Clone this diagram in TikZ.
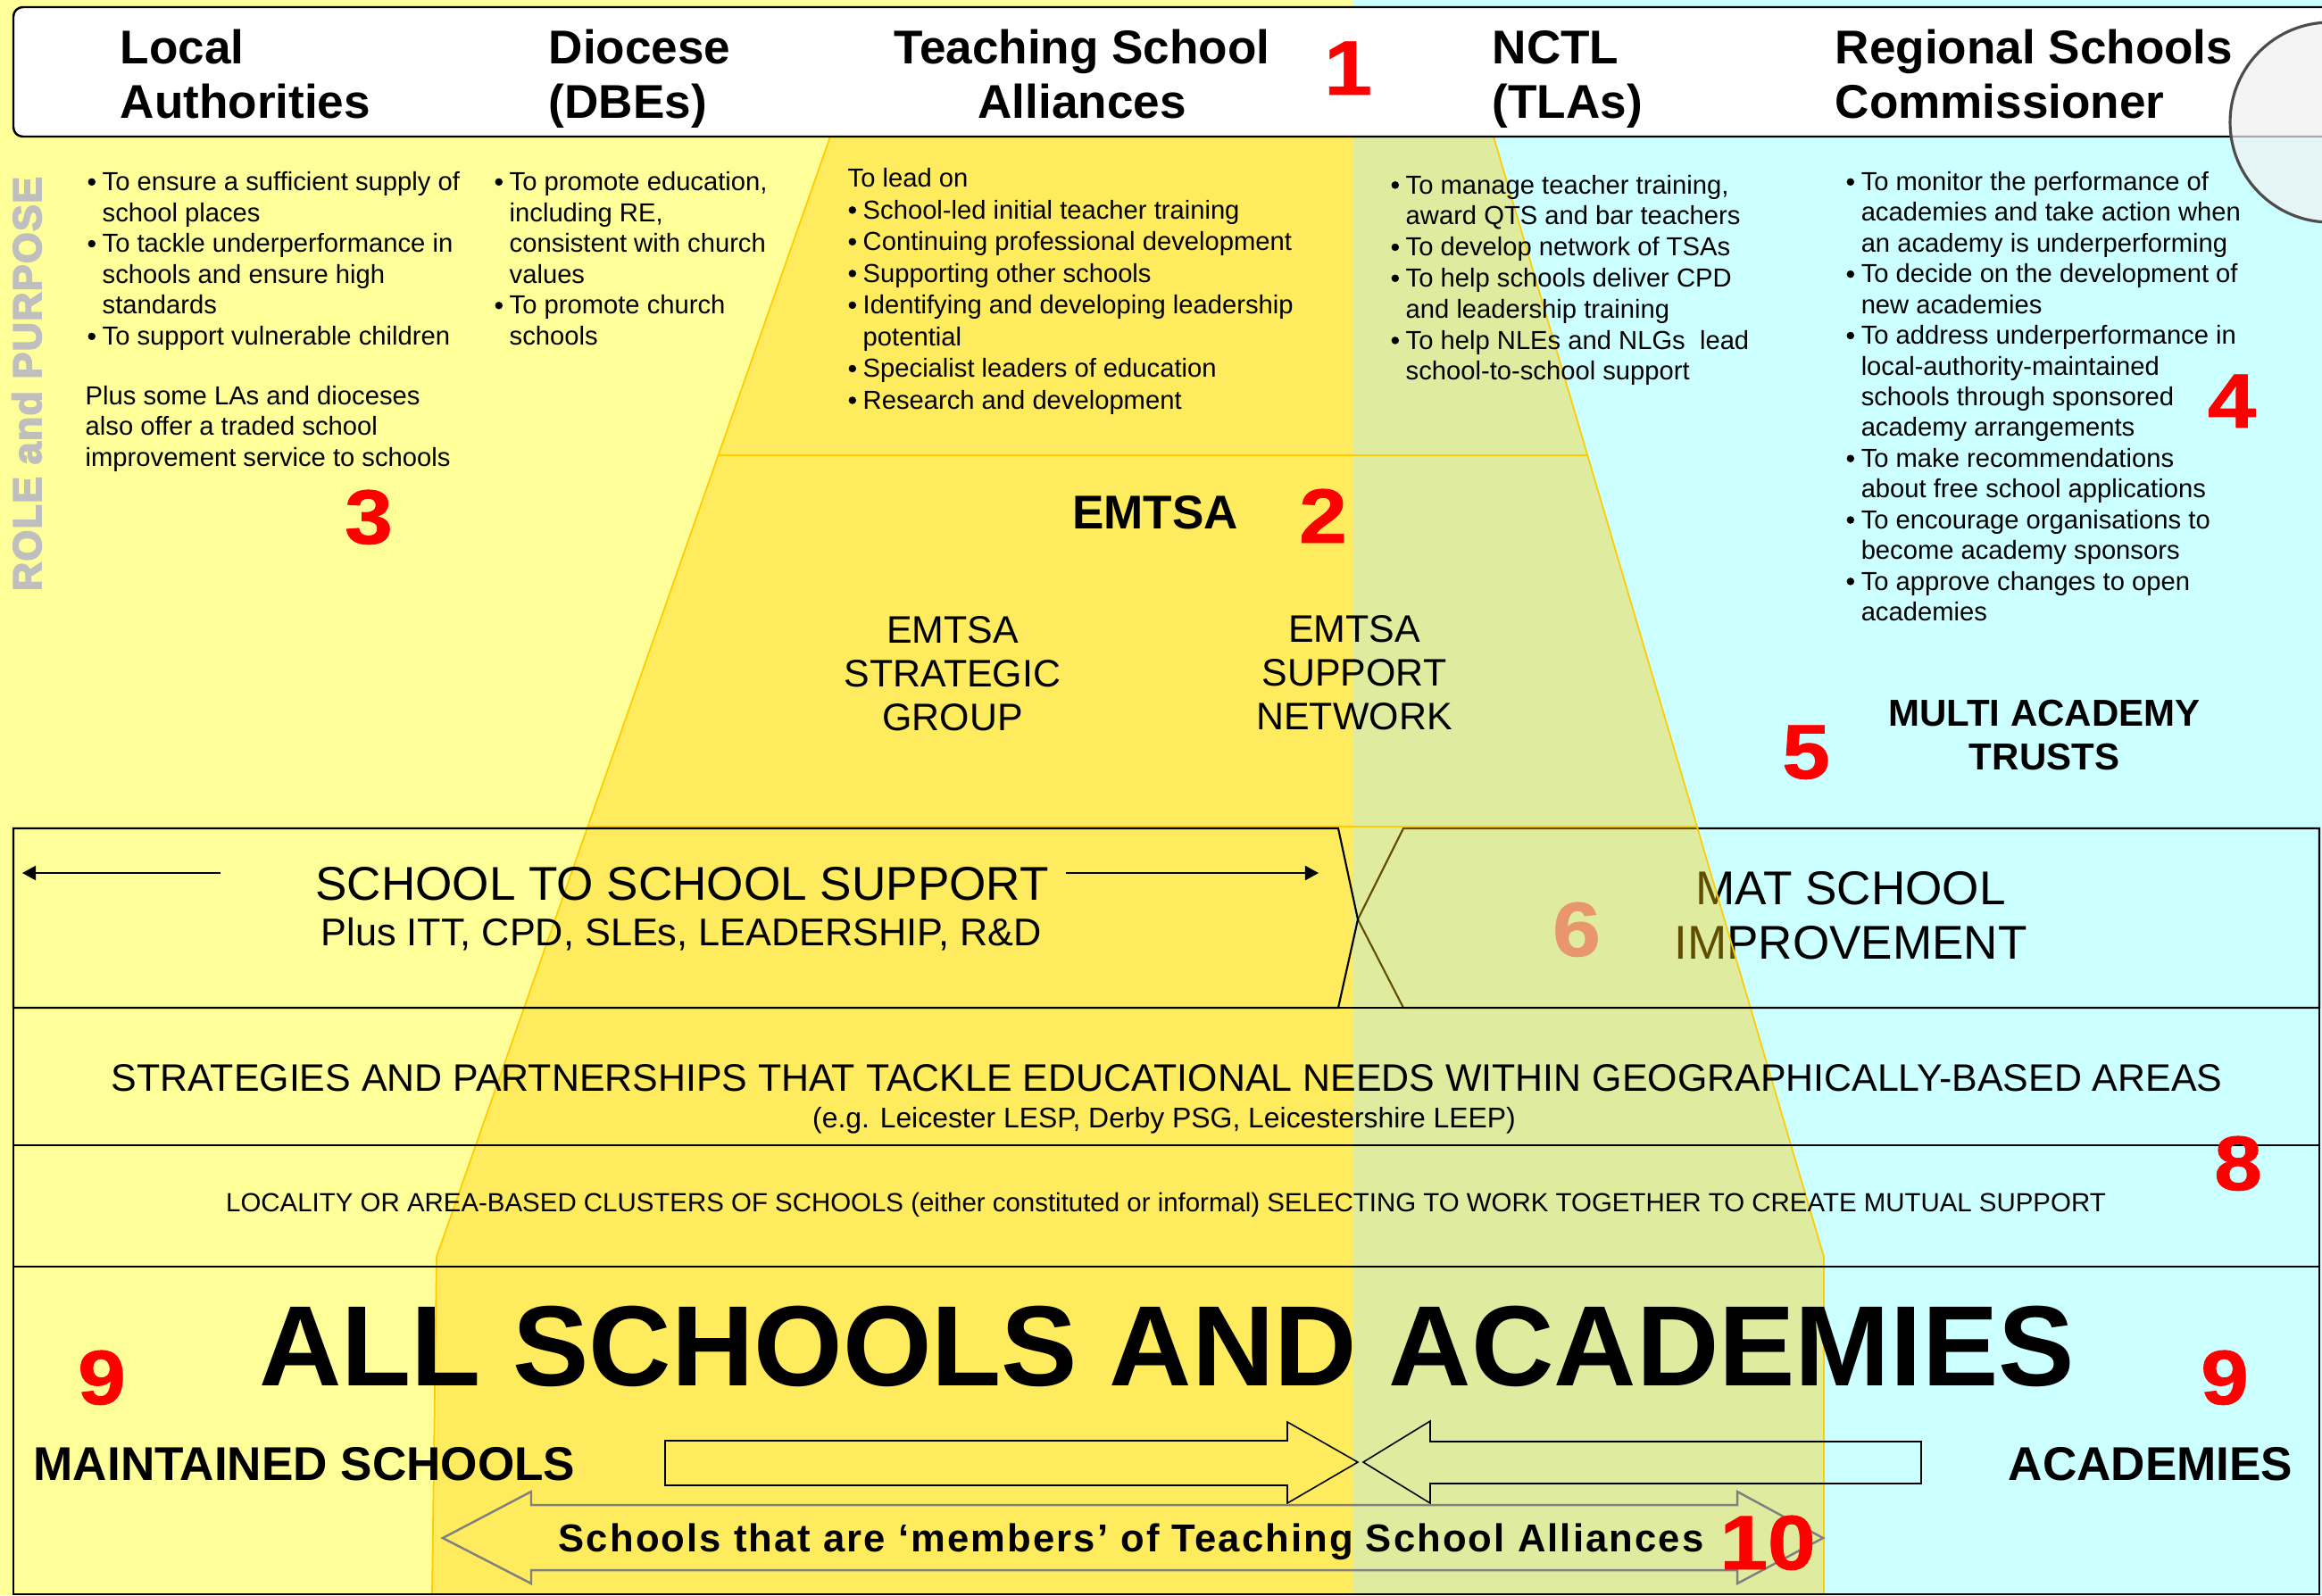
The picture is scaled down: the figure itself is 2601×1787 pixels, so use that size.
\documentclass[tikz,border=0pt]{standalone}
\usepackage{fontspec}
\setmainfont{Liberation Sans}
\usetikzlibrary{arrows.meta}
\definecolor{paleyellow}{HTML}{FFFF99}
\definecolor{palecyan}{HTML}{CCFFFF}
\definecolor{gold}{HTML}{FFCC00}
\definecolor{salmon}{RGB}{233,150,110}
\definecolor{rolegrey}{HTML}{BFBFBF}
\newcommand{\fs}[2]{\fontsize{#1}{#2}\selectfont}
\newcommand{\stack}[2][l]{\begin{tabular}[t]{@{}#1@{}}#2\end{tabular}}
\newcommand{\bl}{\makebox[0.17cm][l]{\addfontfeature{FakeBold=1.5}\textbullet}}
\newcommand{\ct}{\hspace*{0.17cm}}

\begin{document}
\begin{tikzpicture}[
    x=0.01cm, y=-0.01cm, % one unit = one pixel of the original
    every node/.style={inner sep=0pt},
    head/.style={font=\fs{15.1pt}{17.4pt}\bfseries, anchor=base west},
    body/.style={font=\fs{8.3pt}{9.84pt}, anchor=base west},
    num/.style={font=\fs{24.5pt}{28pt}\bfseries\addfontfeature{FakeStretch=1.12, FakeBold=1},
      text=red, anchor=base},
    big/.style={font=\fs{15.1pt}{17.6pt}, anchor=base},
    mid/.style={font=\fs{12.2pt}{13.94pt}, anchor=base},
    rowbox/.style={draw, line width=0.6pt},
    blockarrow/.style={draw, line width=0.45pt},
    >={Triangle[length=4.3pt, width=4.6pt]}
  ]
  \useasboundingbox (0,0) rectangle (2601,1787);
  \clip (0,0) rectangle (2601,1787);

  % Background halves
  \fill[paleyellow] (0,0) rectangle (1515,1787);
  \fill[palecyan] (1515,0) rectangle (2601,1787);

  % MAT box sits under the TSA overlay
  \draw[rowbox] (1572,928) -- (2598,928) -- (2598,1129) -- (1572,1129) -- (1521,1030) -- cycle;
  \node (mat) [big] at (2073,1013) {\stack[c]{MAT SCHOOL\\IMPROVEMENT}};

  % TSA overlay
  \fill[gold, opacity=0.38] (930,153) -- (1673,153) -- (2043,1408) -- (2043,1786)
    -- (484,1786) -- (489,1408) -- cycle;
  \draw[gold, line width=0.5pt] (930,153) -- (1673,153) -- (2043,1408) -- (2043,1786)
    -- (484,1786) -- (489,1408) -- cycle;
  \draw[gold, line width=0.7pt] (805,510) -- (1779,510);
  \draw[gold, line width=0.7pt] (659,926) -- (1902,926);

  % Header
  \draw[fill=white, line width=0.7pt, rounded corners=3pt] (15,8) rectangle (2680,153);
  \node (la) [head] at (134,71) {\stack{Local\\Authorities}};
  \node (dbe) [head] at (614,71) {\stack{Diocese\\(DBEs)}};
  \node (tsa) [head, anchor=base] at (1212,71) {\stack[c]{Teaching School\\Alliances}};
  \node (nctl) [head] at (1671,71) {\stack{NCTL\\(TLAs)}};
  \node (rsc) [head] at (2055,71) {\stack{Regional Schools\\Commissioner}};
  \node (n1) [num] at (1510,106) {1};
  \draw[fill=gray!12, fill opacity=0.7, draw=gray!60!black, line width=0.9pt]
    (2610,137) circle[radius=112];

  % Role and purpose
  \node (role) [font=\fs{12.7pt}{14pt}\bfseries\addfontfeature{LetterSpace=3, FakeBold=4},
    text=rolegrey, rotate=90] at (30,430) {ROLE and PURPOSE};
  \node (laroles) [body] at (97,213.5) {\stack{\bl To ensure a sufficient supply of\\
    \ct school places\\ \bl To tackle underperformance in\\ \ct schools and ensure high\\
    \ct standards\\ \bl To support vulnerable children}};
  \node (laplus) [body] at (95,453) {\stack{Plus some LAs and dioceses\\
    also offer a traded school\\ improvement service to schools}};
  \node (n3) [num] at (413,609) {3};
  \node (dberoles) [body] at (553,213.5) {\stack{\bl To promote education,\\ \ct including RE,\\
    \ct consistent with church\\ \ct values\\ \bl To promote church\\ \ct schools}};
  \node (tsaroles) [body, font=\fs{8.3pt}{10.1pt}] at (949,209.5) {\stack{To lead on\\
    \bl School-led initial teacher training\\ \bl Continuing professional development\\
    \bl Supporting other schools\\ \bl Identifying and developing leadership\\
    \ct potential\\ \bl Specialist leaders of education\\ \bl Research and development}};
  \node (nctlroles) [body, font=\fs{8.3pt}{9.9pt}] at (1557,217) {\stack{\bl To manage teacher training,\\
    \ct award QTS and bar teachers\\ \bl To develop network of TSAs\\
    \bl To help schools deliver CPD\\ \ct and leadership training\\
    \bl To help NLEs and NLGs\ \ lead\\ \ct school-to-school support}};
  \node (rscroles) [body, font=\fs{8.3pt}{9.79pt}] at (2067,213.5) {\stack{\bl To monitor the performance of\\
    \ct academies and take action when\\ \ct an academy is underperforming\\
    \bl To decide on the development of\\ \ct new academies\\
    \bl To address underperformance in\\ \ct local-authority-maintained\\
    \ct schools through sponsored\\ \ct academy arrangements\\
    \bl To make recommendations\\ \ct about free school applications\\
    \bl To encourage organisations to\\ \ct become academy sponsors\\
    \bl To approve changes to open\\ \ct academies}};
  \node (n4) [num] at (2500,479) {4};

  % EMTSA
  \node (emtsa) [head, anchor=base] at (1294,592) {EMTSA};
  \node (n2) [num] at (1482,608) {2};
  \node (strat) [mid] at (1067,720) {\stack[c]{EMTSA\\STRATEGIC\\GROUP}};
  \node (netw) [mid] at (1517,719) {\stack[c]{EMTSA\\SUPPORT\\NETWORK}};
  \node (mats) [font=\fs{11.95pt}{14.2pt}\bfseries, anchor=base] at (2290,813) {\stack[c]{MULTI ACADEMY\\TRUSTS}};
  \node (n5) [num] at (2023,872) {5};

  % School to school support row
  \draw[rowbox] (15,928) -- (1499,928) -- (1521,1030) -- (1499,1129) -- (15,1129) -- cycle;
  \node (s2s) [big] at (764,1008) {SCHOOL TO SCHOOL SUPPORT};
  \node (s2sub) [font=\fs{12.3pt}{14pt}, anchor=base] at (763,1059) {Plus ITT, CPD, SLEs, LEADERSHIP, R\&D};
  \coordinate (sl1) at (247,978);
  \coordinate (sl2) at (25,978);
  \coordinate (sr1) at (1194,978);
  \coordinate (sr2) at (1477,978);
  \draw[->, line width=0.55pt] (sl1) -- (sl2);
  \draw[->, line width=0.55pt] (sr1) -- (sr2);
  \node (n6) [num, text=salmon] at (1766,1071) {6};

  % Area rows
  \draw[rowbox] (15,1129) rectangle (2598,1283);
  \draw[rowbox] (15,1283) rectangle (2598,1419);
  \draw[rowbox] (15,1419) rectangle (2598,1786);
  \node (areas) [mid] at (1307,1222) {STRATEGIES AND PARTNERSHIPS THAT TACKLE EDUCATIONAL NEEDS WITHIN GEOGRAPHICALLY-BASED AREAS};
  \node (eg) [font=\fs{9.07pt}{11pt}, anchor=base] at (1304,1263) {(e.g. Leicester LESP, Derby PSG, Leicestershire LEEP)};
  \node (loc) [font=\fs{8.37pt}{10pt}, anchor=base] at (1306,1357) {LOCALITY OR AREA-BASED CLUSTERS OF SCHOOLS (either constituted or informal) SELECTING TO WORK TOGETHER TO CREATE MUTUAL SUPPORT};
  \node (n8) [num] at (2507,1333) {8};

  % All schools
  \node (all) [font=\fs{36.4pt}{40pt}\bfseries, anchor=base] at (1307,1552) {ALL SCHOOLS AND ACADEMIES};
  \node (n9a) [num] at (114,1573) {9};
  \node (n9b) [num] at (2492,1573) {9};
  \node (maint) [head] at (37,1658) {MAINTAINED SCHOOLS};
  \node (acad) [head, anchor=base] at (2409,1658) {ACADEMIES};
  \draw[blockarrow] (745,1614) -- (1442,1614) -- (1442,1593) -- (1521,1638) -- (1442,1684)
    -- (1442,1664) -- (745,1664) -- cycle;
  \draw[blockarrow] (2152,1615) -- (1602,1615) -- (1602,1592) -- (1527,1638) -- (1602,1684)
    -- (1602,1662) -- (2152,1662) -- cycle;
  \draw[blockarrow, draw=gray, line width=0.7pt] (496,1723) -- (595,1671) -- (595,1686)
    -- (1946,1686) -- (1946,1671) -- (2042,1723) -- (1946,1774) -- (1946,1759)
    -- (595,1759) -- (595,1774) -- cycle;
  \node (members) [font=\fs{12.4pt}{14pt}\bfseries\addfontfeature{LetterSpace=4.8}, anchor=base]
    at (1267,1738) {Schools that are ‘members’ of Teaching School Alliances};
  \node (n10) [num] at (1980,1758) {10};
\end{tikzpicture}
\end{document}
